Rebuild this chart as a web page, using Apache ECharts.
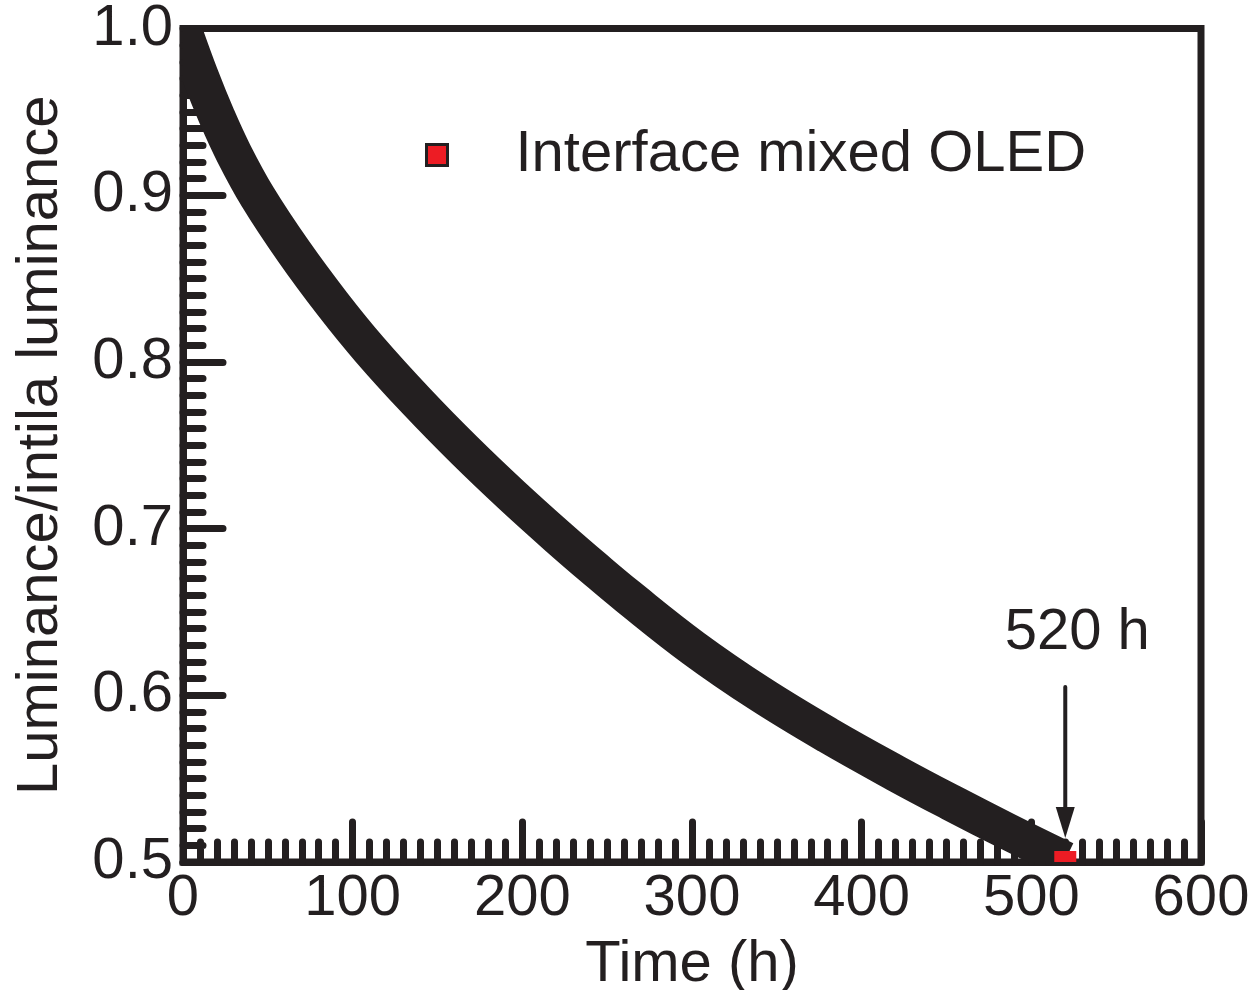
<!DOCTYPE html>
<html>
<head>
<meta charset="utf-8">
<script src="https://cdn.jsdelivr.net/npm/echarts@6/dist/echarts.min.js"></script>
<style>
html,body{margin:0;padding:0;background:#fff;}
#chart{width:1249px;height:990px;}
</style>
</head>
<body>
<div id="chart"></div>
<script>
// ---- data ----
const seriesName = 'Interface mixed OLED';
const timeH = [0, 10, 20, 30, 44, 65, 88, 110, 138, 166, 194, 222, 242, 262, 301, 340, 380, 420, 452, 486, 520];
const lumRatio = [1.000, 0.972, 0.947, 0.925, 0.899, 0.8666, 0.8349, 0.8074, 0.776, 0.7469, 0.7197, 0.694, 0.6764, 0.6594, 0.6282, 0.6009, 0.5761, 0.5533, 0.536, 0.5183, 0.5013];
const endPoint = [520, 0.5];
const xTicks = [0, 100, 200, 300, 400, 500, 600];
const yTicks = [0.5, 0.6, 0.7, 0.8, 0.9, 1.0];
const annotText = '520 h';
const arrowX = 520;
const arrowFrom = 0.605;
const arrowTo = 0.5144;
const annotY = 0.6376;

const DARK = '#231f20';
const RED = '#ed1c24';
const FONT = 'Liberation Sans, Arial, Helvetica, sans-serif';

const chart = echarts.init(document.getElementById('chart'), null, {renderer: 'canvas'});

const axisCommon = {
  axisLine: {show: true, lineStyle: {color: DARK, width: 7}},
  axisTick: {show: true, inside: true, length: 40, lineStyle: {color: DARK, width: 7, cap: 'round'}},
  minorTick: {show: true, splitNumber: 10, length: 20, lineStyle: {color: DARK, width: 7, cap: 'round'}},
  splitLine: {show: false},
  minorSplitLine: {show: false},
  nameTextStyle: {fontSize: 58, color: DARK, fontFamily: FONT},
};

const option = {
  animation: false,
  backgroundColor: '#fff',
  grid: {left: 183, right: 48, top: 28.5, bottom: 128, containLabel: false, outerBoundsMode: 'none',
         show: true, borderColor: DARK, borderWidth: 7, backgroundColor: 'transparent'},
  legend: {
    data: [seriesName],
    left: 420, top: 121,
    icon: 'rect', itemWidth: 21, itemHeight: 21,
    itemStyle: {color: RED, borderColor: DARK, borderWidth: 3},
    textStyle: {fontSize: 58, color: DARK, fontFamily: FONT, padding: [0, 0, 0, 63]}
  },
  xAxis: Object.assign({}, axisCommon, {
    type: 'value', min: xTicks[0], max: xTicks[xTicks.length - 1], interval: 100,
    name: 'Time (h)', nameLocation: 'middle', nameGap: 74,
    axisLabel: {fontSize: 58, color: DARK, fontFamily: FONT, margin: 8}
  }),
  yAxis: Object.assign({}, axisCommon, {
    type: 'value', min: yTicks[0], max: yTicks[yTicks.length - 1], interval: 0.1,
    name: 'Luminance/intila luminance', nameLocation: 'middle', nameGap: 113,
    axisLabel: {fontSize: 58, color: DARK, fontFamily: FONT, margin: 10, formatter: v => v.toFixed(1)}
  }),
  series: [
    {
      type: 'custom', name: seriesName, clip: true, z: 5,
      itemStyle: {color: RED},
      encode: {x: 0, y: 1},
      data: timeH.map((t, i) => [t, lumRatio[i]]),
      renderItem: function (params, api) {
        if (params.dataIndex !== 0) return null;
        const pts = timeH.map((t, i) => api.coord([t, lumRatio[i]]));
        const e = api.coord(endPoint);
        return {
          type: 'group',
          children: [
            {type: 'polyline', shape: {points: pts, smooth: 0.4},
             style: {stroke: DARK, lineWidth: 37, fill: null, lineJoin: 'round', lineCap: 'butt'}},
            {type: 'rect', shape: {x: e[0] - 11, y: e[1] - 11, width: 22, height: 22},
             style: {fill: RED}}
          ]
        };
      }
    },
    {
      type: 'custom', name: 'annotation', clip: false, z: 6, silent: true,
      encode: {x: 0, y: 1},
      data: [[arrowX, arrowFrom]],
      renderItem: function (params, api) {
        const a = api.coord([arrowX, arrowFrom]);
        const b = api.coord([arrowX, arrowTo]);
        const t = api.coord([arrowX, annotY]);
        const headH = 31, headW = 19;
        return {
          type: 'group',
          children: [
            {type: 'line', shape: {x1: a[0], y1: a[1], x2: b[0], y2: b[1] - headH + 2},
             style: {stroke: DARK, lineWidth: 4, lineCap: 'round'}},
            {type: 'polygon', shape: {points: [[b[0] - headW / 2, b[1] - headH], [b[0] + headW / 2, b[1] - headH], [b[0], b[1]]]},
             style: {fill: DARK}},
            {type: 'text', x: t[0] + 12, y: t[1],
             style: {text: annotText, fontSize: 58, fontFamily: FONT, fill: DARK, align: 'center', verticalAlign: 'middle'}}
          ]
        };
      }
    }
  ]
};
chart.setOption(option);
</script>
</body>
</html>
